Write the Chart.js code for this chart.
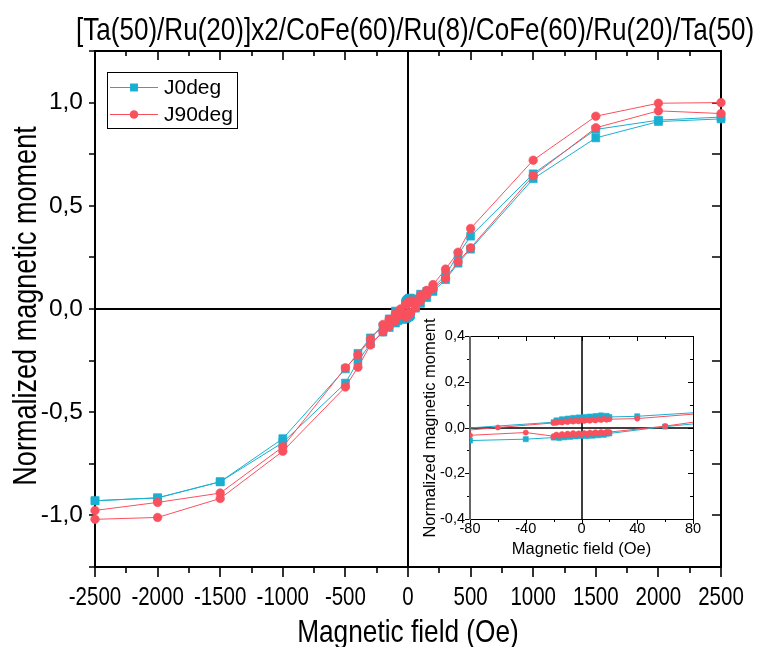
<!DOCTYPE html>
<html>
<head>
<meta charset="utf-8">
<title>J0deg / J90deg magnetization loops</title>
<script src="https://cdn.jsdelivr.net/npm/chart.js@4.4.1/dist/chart.umd.min.js"></script>
<style>
  html, body { margin: 0; padding: 0; background: #fff; }
  #wrap { position: relative; width: 761px; height: 647px; overflow: hidden; }
  #main { position: absolute; left: 0; top: 0; }
  #inset { position: absolute; left: 410px; top: 300px; }
</style>
</head>
<body>
<div id="wrap">
  <canvas id="main" width="761" height="647"></canvas>
  <canvas id="inset" width="295" height="270"></canvas>
</div>
<script>
// ---- Measured loops: field (Oe) and normalized moment ----
// J0deg, field swept down from +2500 Oe, then back up
const j0FieldDown = [2500, 2000, 1500, 1000, 500, 400, 300, 200, 150, 100, 40,
  20, 18, 16, 14, 12, 10, 8, 6, 4, 2, 0, -2, -4, -6, -8, -10, -12, -14, -16, -18, -20,
  -100, -150, -200, -300, -400, -500, -1000, -1500, -2000, -2500];
const j0MomentDown = [0.930, 0.915, 0.870, 0.655, 0.353, 0.264, 0.164, 0.104, 0.086, 0.072, 0.049,
  0.046, 0.051, 0.044, 0.053, 0.047, 0.050, 0.043, 0.048, 0.042, 0.046, 0.041, 0.044, 0.038, 0.042, 0.035, 0.039, 0.032, 0.036, 0.029, 0.031, 0.023,
  -0.010, -0.048, -0.085, -0.140, -0.215, -0.290, -0.628, -0.837, -0.915, -0.929];
const j0FieldUp = [-2500, -2000, -1500, -1000, -500, -400, -300, -200, -150, -100, -80, -40,
  -20, -18, -16, -14, -12, -10, -8, -6, -4, -2, 0, 2, 4, 6, 8, 10, 12, 14, 16, 18, 20,
  60, 100, 150, 200, 300, 400, 500, 1000, 1500, 2000, 2500];
const j0MomentUp = [-0.929, -0.915, -0.837, -0.647, -0.359, -0.253, -0.168, -0.112, -0.090, -0.068, -0.057, -0.051,
  -0.044, -0.040, -0.046, -0.038, -0.043, -0.036, -0.041, -0.034, -0.039, -0.035, -0.037, -0.032, -0.038, -0.031, -0.036, -0.030, -0.034, -0.028, -0.032, -0.027, -0.026,
  0.004, 0.027, 0.055, 0.085, 0.142, 0.222, 0.290, 0.631, 0.829, 0.908, 0.921];

// J90deg, same sweep
const j90FieldDown = [2500, 2000, 1500, 1000, 500, 400, 300, 200, 150, 100, 40,
  20, 18, 16, 14, 12, 10, 8, 6, 4, 2, 0, -2, -4, -6, -8, -10, -12, -14, -16, -18, -20,
  -60, -100, -150, -200, -300, -400, -500, -1000, -1500, -2000, -2500];
const j90MomentDown = [1.000, 0.997, 0.934, 0.721, 0.390, 0.275, 0.193, 0.118, 0.090, 0.068, 0.039,
  0.036, 0.034, 0.038, 0.033, 0.036, 0.031, 0.035, 0.030, 0.033, 0.029, 0.032, 0.027, 0.030, 0.026, 0.029, 0.024, 0.027, 0.022, 0.025, 0.021, 0.020,
  0.000, -0.022, -0.050, -0.075, -0.145, -0.222, -0.285, -0.668, -0.892, -0.937, -0.976];
const j90FieldUp = [-2500, -2000, -1500, -1000, -500, -400, -300, -200, -150, -100, -80, -40,
  -20, -18, -16, -14, -12, -10, -8, -6, -4, -2, 0, 2, 4, 6, 8, 10, 12, 14, 16, 18, 20,
  60, 100, 150, 200, 300, 400, 500, 1000, 1500, 2000, 2500];
const j90MomentUp = [-1.019, -1.010, -0.918, -0.689, -0.378, -0.282, -0.174, -0.110, -0.085, -0.058, -0.034, -0.022,
  -0.038, -0.031, -0.036, -0.029, -0.034, -0.027, -0.032, -0.025, -0.031, -0.026, -0.030, -0.024, -0.029, -0.022, -0.027, -0.021, -0.026, -0.020, -0.025, -0.019, -0.020,
  0.006, 0.040, 0.068, 0.098, 0.148, 0.229, 0.296, 0.646, 0.878, 0.960, 0.947];

const seriesNames = ['J0deg', 'J90deg'];
const chartTitle = '[Ta(50)/Ru(20)]x2/CoFe(60)/Ru(8)/CoFe(60)/Ru(20)/Ta(50)';
const xTitle = 'Magnetic field (Oe)';
const yTitle = 'Normalized magnetic moment';

// Labelled tick values (unlabelled minor ticks come from the scale step)
const mainXTickLabels = [-2500, -2000, -1500, -1000, -500, 0, 500, 1000, 1500, 2000, 2500];
const mainYTickLabels = [-1.0, -0.5, 0.0, 0.5, 1.0];
const insetXTickLabels = [-80, -40, 0, 40, 80];
const insetYTickLabels = [-0.4, -0.2, 0.0, 0.2, 0.4];

// ---- Styling ----
const CYAN = '#1aafd0';
const RED = '#f9505e';
const SANS = "'Liberation Sans', Arial, sans-serif";
const NARROW_SCALE = 0.82;   // condensed lettering for the main plot texts

const toPoints = (xs, ys) => xs.map((x, i) => ({ x, y: ys[i] }));
const j0Loop = toPoints(j0FieldDown.concat(j0FieldUp), j0MomentDown.concat(j0MomentUp));
const j90Loop = toPoints(j90FieldDown.concat(j90FieldUp), j90MomentDown.concat(j90MomentUp));

const commaLabel = v => v.toFixed(1).replace('.', ',');
const near = (a, b) => Math.abs(a - b) < 1e-6;

// text helper: optional horizontal squeeze and rotation
function drawText(ctx, text, x, y, size, opts = {}) {
  ctx.save();
  ctx.translate(x, y);
  if (opts.rotate) ctx.rotate(opts.rotate);
  if (opts.squeeze) ctx.scale(opts.squeeze, 1);
  ctx.font = `${size}px ${SANS}`;
  ctx.fillStyle = '#000';
  ctx.textAlign = opts.align || 'center';
  ctx.textBaseline = 'middle';
  ctx.fillText(text, 0, 0);
  ctx.restore();
}

function makeDatasets(circleR, squareR, clip) {
  return [
    {
      label: seriesNames[0], data: j0Loop, showLine: true, tension: 0,
      borderColor: CYAN, backgroundColor: CYAN, borderWidth: 1,
      pointStyle: 'rect', pointRadius: squareR, pointBorderWidth: 0.6,
      pointBackgroundColor: CYAN, pointBorderColor: CYAN, order: 1, clip
    },
    {
      label: seriesNames[1], data: j90Loop, showLine: true, tension: 0,
      borderColor: RED, backgroundColor: RED, borderWidth: 1,
      pointStyle: 'circle', pointRadius: circleR, pointBorderWidth: 0.6,
      pointBackgroundColor: RED, pointBorderColor: RED, order: 0, clip
    }
  ];
}

// ---- Main plot: frame, zero lines, ticks, labels, titles, legend ----
const mainDecor = {
  id: 'mainDecor',
  beforeDatasetsDraw(chart) {
    const { ctx, chartArea: a, scales: { x, y } } = chart;
    ctx.save();
    ctx.strokeStyle = '#000';
    ctx.lineWidth = 1.6;
    ctx.beginPath();
    x.ticks.forEach(t => {
      const px = Math.round(x.getPixelForValue(t.value));
      const major = mainXTickLabels.some(v => near(v, t.value));
      ctx.moveTo(px, a.bottom); ctx.lineTo(px, a.bottom + (major ? 10 : 6));
      ctx.moveTo(px, a.top); ctx.lineTo(px, a.top + (major ? 9 : 5));
    });
    y.ticks.forEach(t => {
      const py = Math.round(y.getPixelForValue(t.value));
      ctx.moveTo(a.left, py); ctx.lineTo(a.left - 6, py);
      ctx.moveTo(a.right, py); ctx.lineTo(a.right - 9, py);
    });
    ctx.stroke();
    ctx.lineWidth = 2;
    const x0 = Math.round(x.getPixelForValue(0));
    const y0 = Math.round(y.getPixelForValue(0));
    ctx.beginPath();
    ctx.moveTo(x0, a.top); ctx.lineTo(x0, a.bottom);
    ctx.moveTo(a.left, y0); ctx.lineTo(a.right, y0);
    ctx.stroke();
    ctx.strokeRect(a.left, a.top, a.right - a.left, a.bottom - a.top);
    ctx.restore();
  },
  afterDraw(chart) {
    const { ctx, chartArea: a, scales: { x, y } } = chart;
    // tick labels
    mainXTickLabels.forEach(v => {
      drawText(ctx, String(v), x.getPixelForValue(v), 598, 25, { squeeze: NARROW_SCALE });
    });
    mainYTickLabels.forEach(v => {
      drawText(ctx, commaLabel(v), 83, y.getPixelForValue(v), 24.5, { align: 'right' });
    });
    // titles
    drawText(ctx, chartTitle, 415, 31, 31.8, { squeeze: NARROW_SCALE });
    drawText(ctx, xTitle, (a.left + a.right) / 2, 633, 32, { squeeze: NARROW_SCALE });
    drawText(ctx, yTitle, 27, 306, 33, { squeeze: NARROW_SCALE, rotate: -Math.PI / 2 });

    // legend
    ctx.save();
    const lx = 107, ly = 72, lw = 130, lh = 56;
    ctx.fillStyle = '#fff';
    ctx.fillRect(lx, ly, lw, lh);
    ctx.strokeStyle = '#000';
    ctx.lineWidth = 1;
    ctx.strokeRect(lx + 0.5, ly + 0.5, lw, lh);
    const rows = [87, 114];
    chart.data.datasets.forEach((ds, i) => {
      const ry = rows[i] + 0.5;
      ctx.strokeStyle = ds.borderColor;
      ctx.lineWidth = 1;
      ctx.beginPath();
      ctx.moveTo(110, ry); ctx.lineTo(158, ry);
      ctx.stroke();
      ctx.fillStyle = ds.pointBackgroundColor;
      ctx.beginPath();
      if (ds.pointStyle === 'rect') {
        const s = ds.pointRadius * Math.SQRT1_2;
        ctx.rect(134 - s, ry - s, 2 * s, 2 * s);
      } else {
        ctx.arc(134, ry, ds.pointRadius, 0, Math.PI * 2);
      }
      ctx.fill();
      drawText(ctx, ds.label, 164, ry + 0.5, 21, { align: 'left' });
    });
    ctx.restore();
  }
};

new Chart(document.getElementById('main'), {
  type: 'scatter',
  data: { datasets: makeDatasets(4.3, 5.6, false) },
  options: {
    responsive: false,
    animation: false,
    events: [],
    layout: { padding: { top: 51, right: 40, left: 0, bottom: 0 } },
    plugins: { legend: { display: false }, tooltip: { enabled: false }, title: { display: false } },
    scales: {
      x: {
        type: 'linear', min: -2500, max: 2500,
        grid: { display: false }, border: { display: false },
        ticks: { stepSize: 250, autoSkip: false, display: false },
        afterFit: s => { s.height = 80; }
      },
      y: {
        type: 'linear', min: -1.25, max: 1.25,
        grid: { display: false }, border: { display: false },
        ticks: { stepSize: 0.25, autoSkip: false, display: false },
        afterFit: s => { s.width = 95; }
      }
    }
  },
  plugins: [mainDecor]
});

// ---- Inset: low-field part of the same loops ----
const insetDecor = {
  id: 'insetDecor',
  beforeDatasetsDraw(chart) {
    const { ctx, chartArea: a, scales: { x, y } } = chart;
    ctx.save();
    ctx.strokeStyle = '#000';
    ctx.lineWidth = 1;
    ctx.beginPath();
    x.ticks.forEach(t => {
      const px = Math.round(x.getPixelForValue(t.value)) + 0.5;
      const major = insetXTickLabels.some(v => near(v, t.value));
      ctx.moveTo(px, a.bottom); ctx.lineTo(px, a.bottom + (major ? 5 : 3));
      ctx.moveTo(px, a.top); ctx.lineTo(px, a.top + (major ? 5 : 3));
    });
    y.ticks.forEach(t => {
      const py = Math.round(y.getPixelForValue(t.value)) + 0.5;
      const major = insetYTickLabels.some(v => near(v, t.value));
      ctx.moveTo(a.left, py); ctx.lineTo(a.left - (major ? 5 : 3), py);
      ctx.moveTo(a.right, py); ctx.lineTo(a.right - (major ? 5 : 3), py);
    });
    ctx.stroke();
    ctx.lineWidth = 1.5;
    const x0 = Math.round(x.getPixelForValue(0));
    const y0 = Math.round(y.getPixelForValue(0));
    ctx.beginPath();
    ctx.moveTo(x0, a.top); ctx.lineTo(x0, a.bottom);
    ctx.moveTo(a.left, y0); ctx.lineTo(a.right, y0);
    ctx.stroke();
    ctx.lineWidth = 1;
    ctx.beginPath();
    ctx.moveTo(a.left, a.top + 0.5); ctx.lineTo(a.right + 0.5, a.top + 0.5);
    ctx.lineTo(a.right + 0.5, a.bottom + 0.5); ctx.lineTo(a.left, a.bottom + 0.5);
    ctx.stroke();
    ctx.strokeStyle = '#666';
    ctx.lineWidth = 2;
    ctx.beginPath();
    ctx.moveTo(a.left, a.top); ctx.lineTo(a.left, a.bottom + 1);
    ctx.stroke();
    ctx.restore();
  },
  afterDraw(chart) {
    const { ctx, chartArea: a, scales: { x, y } } = chart;
    insetXTickLabels.forEach(v => {
      drawText(ctx, String(v), x.getPixelForValue(v), 229, 14.5);
    });
    insetYTickLabels.forEach(v => {
      drawText(ctx, commaLabel(v), a.left - 5, y.getPixelForValue(v), 14.5, { align: 'right' });
    });
    drawText(ctx, xTitle, (a.left + a.right) / 2, 249, 16.5);
    drawText(ctx, yTitle, 20, 128, 16.5, { rotate: -Math.PI / 2 });
  }
};

new Chart(document.getElementById('inset'), {
  type: 'scatter',
  data: { datasets: makeDatasets(2.6, 3.6, 0) },
  options: {
    responsive: false,
    animation: false,
    events: [],
    layout: { padding: { top: 36, right: 12, left: 0, bottom: 0 } },
    plugins: { legend: { display: false }, tooltip: { enabled: false }, title: { display: false } },
    scales: {
      x: {
        type: 'linear', min: -80, max: 80,
        grid: { display: false }, border: { display: false },
        ticks: { stepSize: 20, autoSkip: false, display: false },
        afterFit: s => { s.height = 51; }
      },
      y: {
        type: 'linear', min: -0.4, max: 0.4,
        grid: { display: false }, border: { display: false },
        ticks: { stepSize: 0.1, autoSkip: false, display: false },
        afterFit: s => { s.width = 60; }
      }
    }
  },
  plugins: [insetDecor]
});
</script>
</body>
</html>
